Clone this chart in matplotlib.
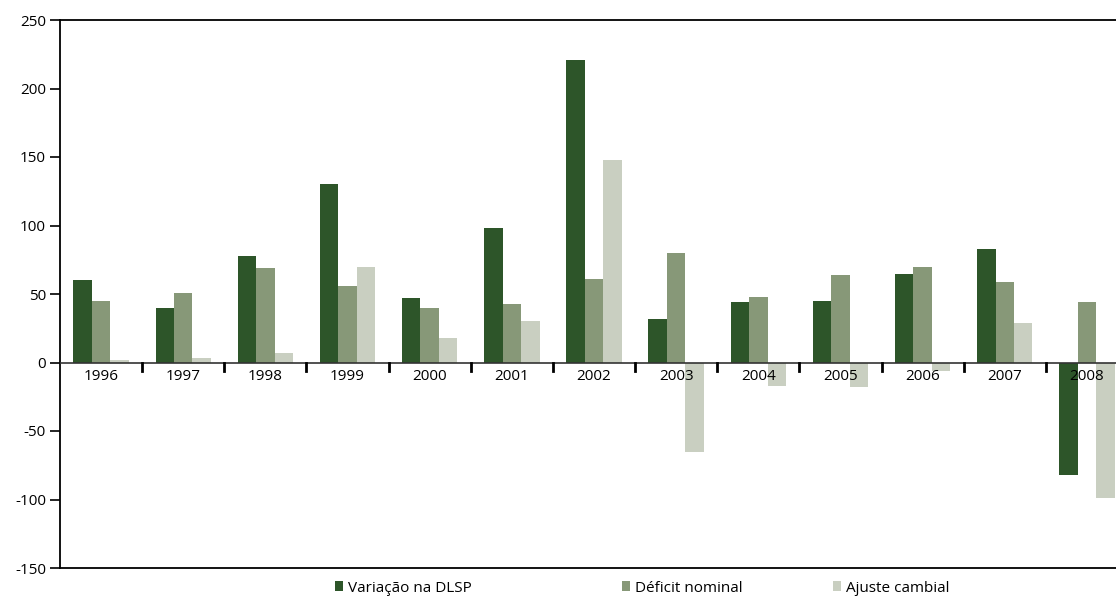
import matplotlib
matplotlib.use("Agg")
import matplotlib.pyplot as plt
from matplotlib.patches import Patch
import numpy as np

plt.rcParams['font.family'] = ['Open Sans', 'DejaVu Sans']

years = ['1996', '1997', '1998', '1999', '2000', '2001', '2002', '2003', '2004', '2005', '2006', '2007', '2008']
variacao_dlsp = [60, 39.5, 77.5, 130, 47, 98, 221, 32, 44, 44.6, 64.5, 83, -82]
deficit_nominal = [44.6, 51, 68.7, 56, 40, 43, 61, 80, 47.5, 64, 70, 58.5, 44]
ajuste_cambial = [2, 3.5, 7, 69.5, 18, 30, 148, -65, -17.5, -18, -6, 29, -98.6]
series_names = ['Variação na DLSP', 'Déficit nominal', 'Ajuste cambial']
colors = ['#2d5529', '#879878', '#c9cfc1']
y_ticks = [-150, -100, -50, 0, 50, 100, 150, 200, 250]

W, H = 1116, 596
fig = plt.figure(figsize=(W / 100, H / 100), dpi=100)
ax = fig.add_axes([60 / W, 1 - 568 / H, 1068 / W, 548 / H])

x = np.arange(len(years))
bw = 0.225
for i, (vals, c) in enumerate(zip([variacao_dlsp, deficit_nominal, ajuste_cambial], colors)):
    ax.bar(x + (i - 1) * bw, vals, width=bw, color=c, zorder=2)

ax.set_xlim(-0.5, len(years) - 0.5)
ax.set_ylim(-150, 250)
ax.set_yticks(y_ticks)
ax.set_yticklabels([str(v) for v in y_ticks], fontsize=11)
ax.tick_params(axis='y', direction='out', length=7, width=1.2, pad=3, colors='black')

ax.set_xticks([])
ax.axhline(0, color='#333333', lw=1.2, zorder=3)
for b in np.arange(0.5, len(years) - 0.5, 1.0):
    ax.plot([b, b], [0, -6], color='black', lw=2, zorder=3, clip_on=False)
for xi, yr in zip(x, years):
    ax.text(xi, -5, yr, ha='center', va='top', fontsize=11, zorder=4)

for s in ['left', 'top', 'bottom']:
    ax.spines[s].set_linewidth(1.3)
ax.spines['right'].set_visible(False)

legend_x = [335, 622, 833]
for name, c, lx in zip(series_names, colors, legend_x):
    leg = fig.legend(handles=[Patch(facecolor=c, edgecolor='none')], labels=[name],
                     loc='center left', bbox_to_anchor=(lx / W, 1 - 588 / H),
                     frameon=False, fontsize=11, handlelength=0.55, handleheight=0.55,
                     handletextpad=0.3, borderpad=0, borderaxespad=0)

fig.savefig('out.png', dpi=100)
